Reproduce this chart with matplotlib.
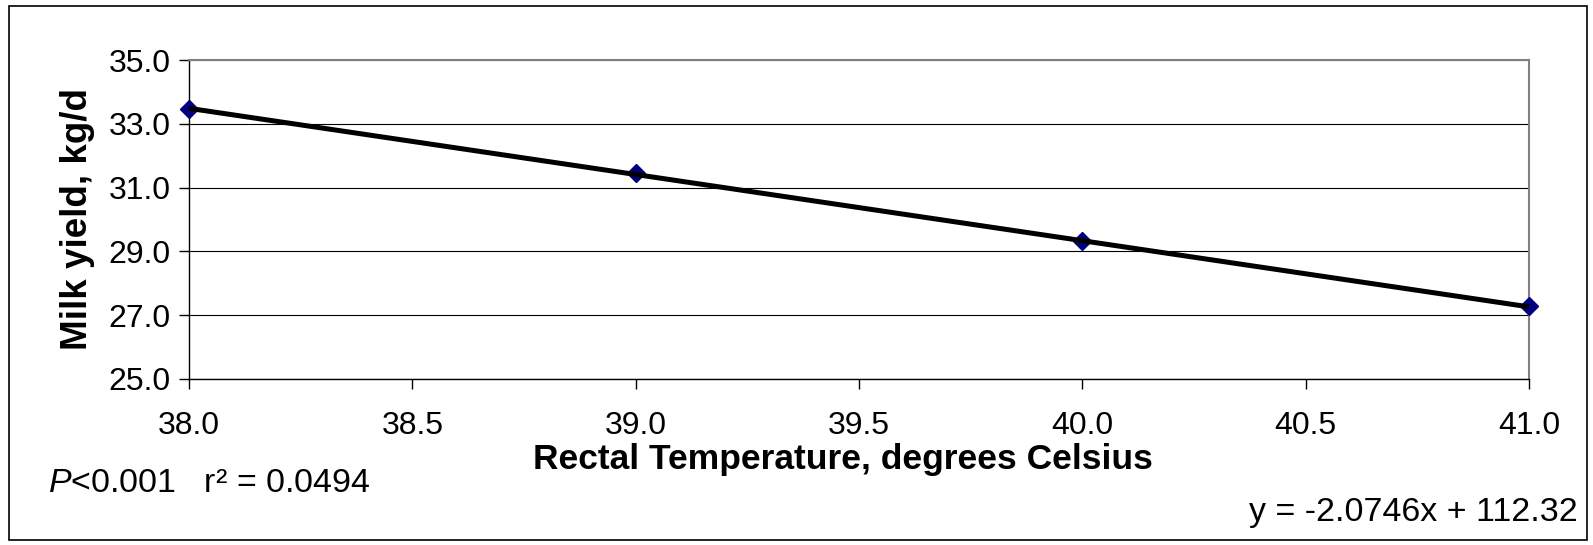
import numpy as np
import matplotlib
matplotlib.use("Agg")
import matplotlib.pyplot as plt
from matplotlib.patches import Rectangle
from matplotlib.ticker import FormatStrFormatter, FixedLocator

plt.rcParams['font.family'] = ['Liberation Sans', 'DejaVu Sans']
plt.rcParams['mathtext.fontset'] = 'custom'
plt.rcParams['mathtext.rm'] = 'Liberation Sans'
plt.rcParams['mathtext.it'] = 'Liberation Sans:italic'

# data
temps = [38.0, 39.0, 40.0, 41.0]
milk = [33.45, 31.45, 29.33, 27.28]

# axis ticks
xticks = [38.0, 38.5, 39.0, 39.5, 40.0, 40.5, 41.0]
yticks = [25.0, 27.0, 29.0, 31.0, 33.0, 35.0]

# trendline as printed on the chart
slope = -2.0746
intercept = 112.32
r2 = 0.0494

W, H = 1593, 545
fig = plt.figure(figsize=(W / 100, H / 100), dpi=100)

# plot area box (pixels)
L, R, T, B = 189, 1529, 60, 379
ax = fig.add_axes([L / W, 1 - B / H, (R - L) / W, (B - T) / H])

ax.set_xlim(xticks[0], xticks[-1])
ax.set_ylim(yticks[0], yticks[-1])
ax.xaxis.set_major_locator(FixedLocator(xticks))
ax.yaxis.set_major_locator(FixedLocator(yticks))
ax.xaxis.set_major_formatter(FormatStrFormatter('%.1f'))
ax.yaxis.set_major_formatter(FormatStrFormatter('%.1f'))

ax.grid(axis='y', color='black', lw=0.8)
ax.set_axisbelow(True)

for s in ['top', 'right']:
    ax.spines[s].set_color('#808080')
    ax.spines[s].set_linewidth(1.5)
for s in ['left', 'bottom']:
    ax.spines[s].set_color('black')
    ax.spines[s].set_linewidth(1.0)

ax.tick_params(axis='both', direction='out', length=7, width=1, labelsize=23, colors='black')
ax.tick_params(axis='y', pad=6)
ax.tick_params(axis='x', pad=16)

# markers sit under the trend line
ax.plot(temps, milk, linestyle='none', marker='D', ms=9.5, color='#000080',
        mec='#000080', zorder=3, clip_on=False)

xs = np.array([temps[0], temps[-1]])
ax.plot(xs, slope * xs + intercept, color='black', lw=3.6, zorder=4,
        solid_capstyle='butt', clip_on=False)

ax.set_ylabel('Milk yield, kg/d', fontsize=26.5, fontweight='bold', labelpad=10)

fig.text(843 / W, 1 - 469 / H, 'Rectal Temperature, degrees Celsius',
         fontsize=25.5, fontweight='bold', ha='center', va='baseline')
fig.text(48 / W, 1 - 492 / H, '$P$<0.001   r\u00b2 = %.4f' % r2,
         fontsize=24.5, ha='left', va='baseline')
fig.text(1578 / W, 1 - 521 / H, 'y = %.4fx + %.2f' % (slope, intercept),
         fontsize=24.5, ha='right', va='baseline')

# outer chart border
fig.patches.append(Rectangle((9 / W, 1 - 540 / H), (1587 - 9) / W, (540 - 6) / H,
                             transform=fig.transFigure, fill=False,
                             edgecolor='black', lw=1.2))

fig.savefig('out.png', dpi=100)
